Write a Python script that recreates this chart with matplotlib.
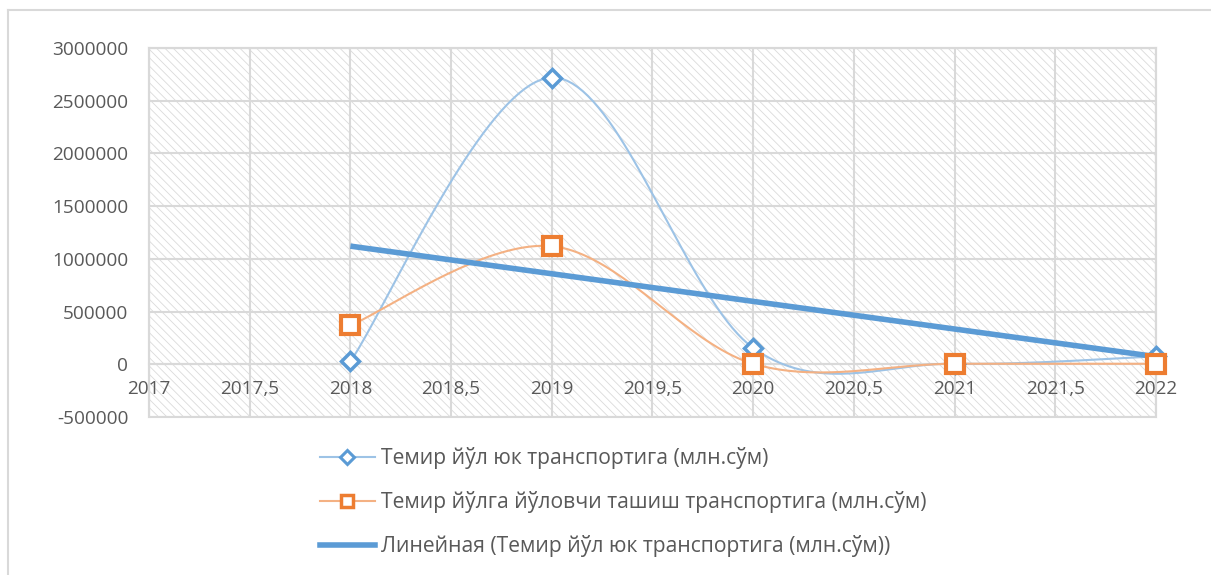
import numpy as np
import matplotlib.pyplot as plt
from matplotlib.patches import Rectangle
from matplotlib.lines import Line2D

# данные
years = [2018, 2019, 2020, 2021, 2022]
freight = [28000, 2720000, 155000, 5000, 75000]
passenger = [370000, 1120000, 5000, 5000, 5000]

label_freight = "Темир йўл юк транспортига (млн.сўм)"
label_passenger = "Темир йўлга йўловчи ташиш транспортига (млн.сўм)"
label_trend = "Линейная (Темир йўл юк транспортига (млн.сўм))"

x_ticks = [2017, 2017.5, 2018, 2018.5, 2019, 2019.5, 2020, 2020.5, 2021, 2021.5, 2022]
x_labels = ["2017", "2017,5", "2018", "2018,5", "2019", "2019,5", "2020", "2020,5", "2021", "2021,5", "2022"]
y_ticks = [-500000, 0, 500000, 1000000, 1500000, 2000000, 2500000, 3000000]

plt.rcParams['font.family'] = ['Open Sans', 'DejaVu Sans']
TXT = '#595959'
GRID = '#d9d9d9'


def smooth(xs, ys, n=40):
    # сглаживание как в Excel (Catmull-Rom / Bezier)
    p = np.column_stack([xs, ys]).astype(float)
    p = np.vstack([p[0], p, p[-1]])
    out = []
    for i in range(1, len(p) - 2):
        p0, p1, p2, p3 = p[i - 1], p[i], p[i + 1], p[i + 2]
        c1 = p1 + (p2 - p0) / 6
        c2 = p2 - (p3 - p1) / 6
        t = np.linspace(0, 1, n)[:, None]
        seg = ((1 - t) ** 3) * p1 + 3 * ((1 - t) ** 2) * t * c1 + 3 * (1 - t) * t ** 2 * c2 + t ** 3 * p2
        out.append(seg)
    out = np.vstack(out)
    return out[:, 0], out[:, 1]


fig = plt.figure(figsize=(12.11, 5.75), dpi=100)
ax = fig.add_axes([149 / 1211, 1 - 417 / 575, 1007 / 1211, 369 / 575])

# рамка диаграммы
fig.add_artist(Line2D([8 / 1211, 8 / 1211], [0, 1 - 10 / 575], color=GRID, lw=1.5))
fig.add_artist(Line2D([8 / 1211, 1], [1 - 10 / 575, 1 - 10 / 575], color=GRID, lw=1.5))

# штриховка области построения
plt.rcParams['hatch.linewidth'] = 0.6
ax.add_patch(Rectangle((0, 0), 1, 1, transform=ax.transAxes, facecolor='white',
                       edgecolor='#dadada', hatch='\\' * 4, lw=0, zorder=0))
ax.patch.set_visible(False)

ax.set_xlim(2017, 2022)
ax.set_ylim(-500000, 3000000)
ax.set_xticks(x_ticks)
ax.set_xticklabels(x_labels)
ax.set_yticks(y_ticks)
ax.set_yticklabels([str(v) for v in y_ticks])
ax.grid(True, color=GRID, lw=1.5, zorder=1)
ax.set_axisbelow(True)
for s in ['top', 'right', 'left']:
    ax.spines[s].set_color(GRID)
    ax.spines[s].set_linewidth(1.5)
ax.spines['bottom'].set_position(('data', 0))
ax.spines['bottom'].set_color(GRID)
ax.spines['bottom'].set_linewidth(1.5)
ax.add_patch(Rectangle((0, 0), 1, 1, transform=ax.transAxes, fill=False,
                       edgecolor=GRID, lw=1.5, zorder=1, clip_on=False))
ax.tick_params(length=0, labelsize=13.7, colors=TXT)
ax.tick_params(axis='y', pad=15)
ax.tick_params(axis='x', pad=11)

sx, sy = smooth(years, freight)
ax.plot(sx, sy, color='#9dc3e6', lw=1.5, zorder=3)
sx, sy = smooth(years, passenger)
ax.plot(sx, sy, color='#f4b183', lw=1.5, zorder=3)

# линейный тренд
k, b = np.polyfit(years, freight, 1)
trend = [k * x + b for x in years]
ax.plot([years[0], years[-1]], [trend[0], trend[-1]], color='#5b9bd5', lw=4, zorder=4,
        solid_capstyle='butt')

ax.plot(years, freight, ls='none', marker='D', ms=9, mfc='white', mec='#5b9bd5', mew=2.5,
        zorder=5, clip_on=False)
ax.plot(years, passenger, ls='none', marker='s', ms=13, mfc='white', mec='#ed7d31', mew=3,
        zorder=6, clip_on=False)

handles = [
    Line2D([], [], color='#9dc3e6', lw=1.5, marker='D', ms=7, mfc='white', mec='#5b9bd5', mew=2.2),
    Line2D([], [], color='#f4b183', lw=1.5, marker='s', ms=9, mfc='white', mec='#ed7d31', mew=2.5),
    Line2D([], [], color='#5b9bd5', lw=4),
]
leg = fig.legend(handles, [label_freight, label_passenger, label_trend],
                 loc='upper left', bbox_to_anchor=(320 / 1211, 1 - 447 / 575),
                 frameon=False, fontsize=15.2, labelspacing=1.05, handlelength=2.6,
                 handletextpad=0.3, borderaxespad=0, borderpad=0)
for t in leg.get_texts():
    t.set_color(TXT)

fig.savefig('out.png', dpi=100)
